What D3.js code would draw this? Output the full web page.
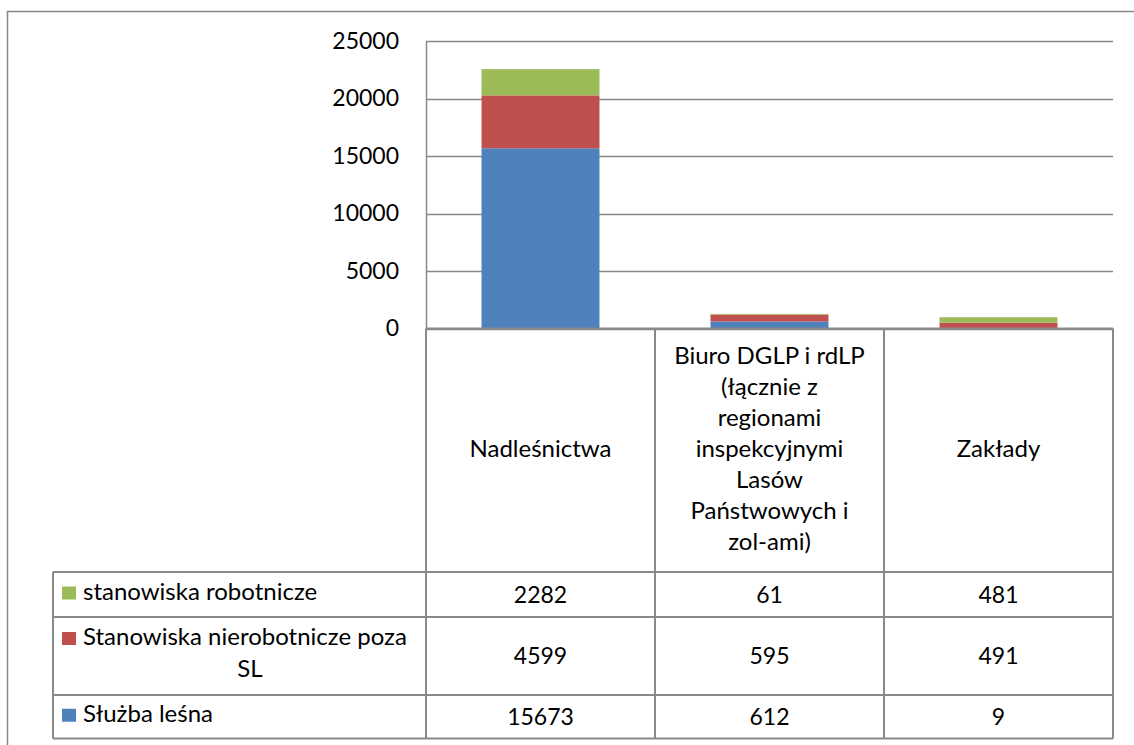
<!DOCTYPE html>
<html><head><meta charset="utf-8">
<script src="https://cdn.jsdelivr.net/npm/d3@7"></script>
<style>
html,body{margin:0;padding:0;background:#fff;}
svg text{font-family:Lato,"Open Sans",sans-serif;fill:#000;}
</style></head>
<body>
<svg id="chart" width="1134" height="745"></svg>
<script>
const categories = ["Nadleśnictwa", "Biuro DGLP i rdLP (łącznie z regionami inspekcyjnymi Lasów Państwowych i zol-ami)", "Zakłady"];
const categoryLines = [
  ["Nadleśnictwa"],
  ["Biuro DGLP i rdLP", "(łącznie z", "regionami", "inspekcyjnymi", "Lasów", "Państwowych i", "zol-ami)"],
  ["Zakłady"]
];
const seriesNames = ["Służba leśna", "Stanowiska nierobotnicze poza SL", "stanowiska robotnicze"];
const sluzbaLesna = [15673, 612, 9];
const nierobotnicze = [4599, 595, 491];
const robotnicze = [2282, 61, 481];
const seriesColors = ["#4F81BD", "#C0504D", "#9BBB59"];
const yTicks = [0, 5000, 10000, 15000, 20000, 25000];

const svg = d3.select("#chart");
const lineColor = "#898989";
const wordSize = 24, numSize = 23;

// outer chart border
svg.append("rect").attr("x", 7.5).attr("y", 11.5).attr("width", 1200).attr("height", 800)
  .attr("fill", "none").attr("stroke", "#868686").attr("stroke-width", 1.5);

const plotL = 426, plotR = 1113, plotT = 41, plotB = 328.5;
const x = d3.scaleBand().domain(categories).range([plotL, plotR]).paddingInner(0).paddingOuter(0);
const y = d3.scaleLinear().domain([0, 25000]).range([plotB, plotT]);

// gridlines
svg.append("g").selectAll("line").data(yTicks).join("line")
  .attr("x1", plotL).attr("x2", plotR)
  .attr("y1", d => Math.round(y(d)) + 0.5).attr("y2", d => Math.round(y(d)) + 0.5)
  .attr("stroke", lineColor).attr("stroke-width", 1.5);

// y axis
const yAxis = d3.axisLeft(y).tickValues(yTicks).tickSize(0).tickPadding(27).tickFormat(d3.format("d"));
const gy = svg.append("g").attr("transform", `translate(${plotL},0)`).call(yAxis);
gy.select(".domain").attr("stroke", lineColor).attr("stroke-width", 1.5);
gy.selectAll("text").attr("font-size", numSize).attr("font-family", "Lato").attr("fill", "#000");

// stacked bars
const data = categories.map((c, i) => ({cat: c, s0: sluzbaLesna[i], s1: nierobotnicze[i], s2: robotnicze[i]}));
const stack = d3.stack().keys(["s0", "s1", "s2"]);
const stacked = stack(data);
const bw = x.bandwidth() * 0.515;
svg.append("g").selectAll("g").data(stacked).join("g")
  .attr("fill", (d, i) => seriesColors[i])
  .selectAll("rect").data(d => d).join("rect")
  .attr("x", d => x(d.data.cat) + (x.bandwidth() - bw) / 2)
  .attr("width", bw)
  .attr("y", d => y(d[1]))
  .attr("height", d => y(d[0]) - y(d[1]));

// data table
const tblL = 53, headB = 572;
const rowBounds = [572, 617, 695, 738.5];
const tg = svg.append("g");
tg.append("line").attr("x1", plotL).attr("x2", plotR).attr("y1", plotB).attr("y2", plotB)
  .attr("stroke", lineColor).attr("stroke-width", 2);
rowBounds.forEach(yy => {
  tg.append("line").attr("x1", tblL).attr("x2", plotR).attr("y1", yy).attr("y2", yy)
    .attr("stroke", lineColor).attr("stroke-width", 2);
});
tg.append("line").attr("x1", tblL).attr("x2", tblL).attr("y1", headB).attr("y2", rowBounds[3])
  .attr("stroke", lineColor).attr("stroke-width", 2);
const colEdges = categories.map(c => x(c)).concat([plotR]);
colEdges.forEach(xx => {
  tg.append("line").attr("x1", xx).attr("x2", xx).attr("y1", plotB).attr("y2", rowBounds[3])
    .attr("stroke", lineColor).attr("stroke-width", 2);
});

// header labels
const lh = 31;
categoryLines.forEach((lines, i) => {
  const cx = x(categories[i]) + x.bandwidth() / 2;
  const cy = (plotB + headB) / 2;
  const t = tg.append("text").attr("text-anchor", "middle").attr("font-size", wordSize);
  lines.forEach((ln, j) => {
    t.append("tspan").attr("x", cx)
      .attr("y", cy + (j - (lines.length - 1) / 2) * lh + 7).text(ln);
  });
});

// table rows, top to bottom
const rows = [
  {lines: ["stanowiska robotnicze"], vals: robotnicze, color: seriesColors[2]},
  {lines: ["Stanowiska nierobotnicze poza", "SL"], vals: nierobotnicze, color: seriesColors[1]},
  {lines: ["Służba leśna"], vals: sluzbaLesna, color: seriesColors[0]}
];
rows.forEach((r, ri) => {
  const top = rowBounds[ri], bot = rowBounds[ri + 1];
  const cy = (top + bot) / 2;
  const firstBase = r.lines.length > 1 ? top + 28 : cy + 5;
  tg.append("rect").attr("x", 62).attr("y", firstBase - 13).attr("width", 14).attr("height", 13).attr("fill", r.color);
  r.lines.forEach((ln, j) => {
    const t = tg.append("text").attr("font-size", wordSize).attr("y", firstBase + j * 32).text(ln);
    if (j === 0) t.attr("x", 83);
    else t.attr("x", 250).attr("text-anchor", "middle");
  });
  r.vals.forEach((v, ci) => {
    tg.append("text").attr("text-anchor", "middle").attr("font-size", numSize)
      .attr("x", x(categories[ci]) + x.bandwidth() / 2).attr("y", cy + 8).text(v);
  });
});
</script>
</body></html>
